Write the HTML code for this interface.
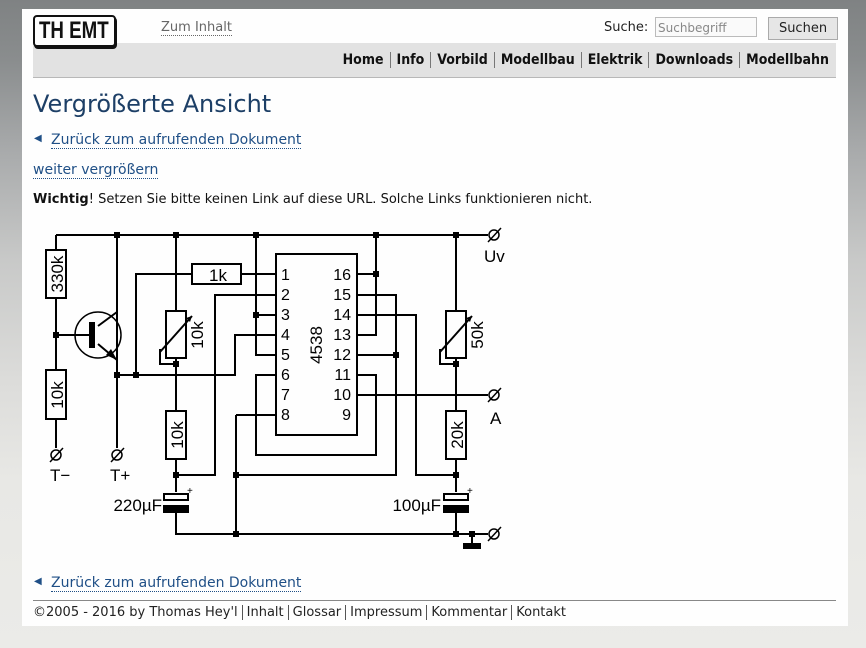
<!DOCTYPE html>
<html><head><meta charset="utf-8"><style>
html,body{margin:0;padding:0}
body{width:866px;height:648px;position:relative;overflow:hidden;background:linear-gradient(#7f8283 0px,#8a8d8e 60px,#a8aaab 150px,#c8c9c8 260px,#dcdcda 380px,#e8e8e5 480px,#ebebe8 648px);font-family:"DejaVu Sans","Liberation Sans",sans-serif;}
.a{position:absolute;white-space:nowrap}
#page{position:absolute;left:22px;top:9px;width:826px;height:617px;background:#fefefe}
.nav{position:absolute;left:33px;top:43px;width:803px;height:34px;background:#e2e2e2;border-bottom:1px solid #b8b8b8}
.menu{font-family:"DejaVu Sans Condensed","DejaVu Sans",sans-serif;font-weight:bold;font-size:14px;color:#111}
.menu span{padding:0 6px;border-left:1px solid #777}
.menu span:first-child{border-left:none}
.lnk{color:#1f4f86;border-bottom:1px dotted #1f4f86;font-size:14px}
.foot{font-size:13px;color:#222}
.foot span{padding:0 4px;border-left:1px solid #555}
.foot span:first-child{border-left:none;padding-left:0}
</style></head><body>
<div id="page"></div>
<div class="nav"></div>
<div class="a" style="left:33px;top:15px;width:79px;height:28px;border:2px solid #111;border-radius:4px;box-shadow:1px 2px 0 #111;overflow:hidden;background:#fefefe;z-index:2"><div style="font-family:'Liberation Sans',sans-serif;font-weight:bold;font-size:24px;line-height:28px;color:#111;transform:scaleX(0.78);transform-origin:0 0;margin-left:4px;width:100px">TH EMT</div></div>
<div class="a" style="left:161px;top:20px;font-size:13px;color:#666;border-bottom:1px dotted #666">Zum Inhalt</div>
<div class="a" style="left:604px;top:20px;font-size:13px;color:#222">Suche:</div>
<div class="a" style="left:655px;top:17px;height:20px;border:1px solid #bbb;background:#fafafa;font-size:12px;color:#888;line-height:20px;padding-left:2px;box-sizing:border-box;width:102px">Suchbegriff</div>
<div class="a" style="left:768px;top:17px;width:68px;height:21px;border:1px solid #aaa;background:#e6e6e6;font-size:13px;line-height:21px;text-align:center;color:#222">Suchen</div>
<div class="a menu" style="right:37px;top:52px"><span>Home</span><span>Info</span><span>Vorbild</span><span>Modellbau</span><span>Elektrik</span><span>Downloads</span><span style="padding-right:0">Modellbahn</span></div>
<div class="a" style="left:33px;top:90px;font-size:24px;color:#1d3f66">Vergrößerte Ansicht</div>
<div class="a" style="left:34px;top:133px;font-size:10px;color:#1f4f86">◀</div>
<div class="a lnk" style="left:51px;top:132px">Zurück zum aufrufenden Dokument</div>
<div class="a lnk" style="left:33px;top:162px">weiter vergrößern</div>
<div class="a" style="left:33px;top:192px;font-size:13px;color:#111"><b>Wichtig</b>! Setzen Sie bitte keinen Link auf diese URL. Solche Links funktionieren nicht.</div>
<svg class="a" style="left:0;top:0" width="866" height="648" font-family="Liberation Sans,sans-serif">
<g stroke="#000" stroke-width="2" fill="none">
<path d="M56 235H488M56 235V250M56 298V370M56 419V448"/>
<path d="M117 235V448M117 375H235V335H276M136 375V274H192M241 274H276"/>
<path d="M176 235V311M176 358V411M176 459V492M176 475H215V295H276"/>
<path d="M160 349V364H176"/>
<path d="M176 513V534H488M236 415V534M236 415H276M236 475H396V295H357M357 355H396"/>
<path d="M256 235V355H276M256 315H276"/>
<path d="M276 375H256V455H376V375H357"/>
<path d="M376 235V335H357M357 274H376M357 315H416V475H456M357 395H488"/>
<path d="M456 235V311M456 358V411M456 459V492M456 513V534M440 349V364H456"/>
<path d="M472 534V545"/>
<rect x="46" y="250" width="20" height="48"/><rect x="46" y="370" width="20" height="49"/>
<rect x="166" y="311" width="20" height="47"/><rect x="166" y="411" width="20" height="48"/>
<rect x="446" y="311" width="20" height="47"/><rect x="446" y="411" width="20" height="48"/>
<rect x="192" y="264" width="49" height="20"/>
<rect x="276" y="254" width="81" height="181"/>
<circle cx="98" cy="335" r="23" stroke-width="1.5"/>
<path d="M56 335H90M98 326L117 312M98 344L117 360" />
<path d="M160 352L192 316M440 352L472 316"/>
<rect x="164" y="494" width="24" height="6"/><rect x="444" y="494" width="24" height="6"/>
</g>
<g fill="#000">
<rect x="89" y="322" width="6" height="26"/>
<polygon points="117,360 106,355 111,349"/>
<polygon points="192,316 186,318 190,322"/><polygon points="472,316 466,318 470,322"/>
<rect x="163" y="505" width="26" height="8"/><rect x="443" y="505" width="26" height="8"/>
<rect x="463" y="543" width="18" height="6"/>
<g>
<rect x="114" y="232" width="6" height="6"/><rect x="173" y="232" width="6" height="6"/><rect x="253" y="232" width="6" height="6"/><rect x="373" y="232" width="6" height="6"/><rect x="453" y="232" width="6" height="6"/>
<rect x="53" y="332" width="6" height="6"/><rect x="114" y="372" width="6" height="6"/><rect x="133" y="372" width="6" height="6"/>
<rect x="173" y="361" width="6" height="6"/><rect x="173" y="472" width="6" height="6"/><rect x="233" y="472" width="6" height="6"/><rect x="233" y="531" width="6" height="6"/>
<rect x="253" y="312" width="6" height="6"/><rect x="373" y="271" width="6" height="6"/><rect x="393" y="352" width="6" height="6"/>
<rect x="453" y="361" width="6" height="6"/><rect x="453" y="472" width="6" height="6"/><rect x="453" y="531" width="6" height="6"/><rect x="469" y="531" width="6" height="6"/>
</g>
</g>
<g stroke="#000" stroke-width="1.5" fill="none">
<circle cx="494" cy="235" r="5"/><path d="M488 242L501 228"/>
<circle cx="494" cy="395" r="5"/><path d="M488 402L501 388"/>
<circle cx="494" cy="534" r="5"/><path d="M488 541L501 527"/>
<circle cx="56" cy="455" r="5"/><path d="M50 462L63 448"/>
<circle cx="117" cy="455" r="5"/><path d="M111 462L124 448"/>
</g>
<g font-size="17" fill="#000">
<text x="209" y="281">1k</text>
<text transform="translate(63,274) rotate(-90)" text-anchor="middle">330k</text>
<text transform="translate(63,395) rotate(-90)" text-anchor="middle">10k</text>
<text transform="translate(183,435) rotate(-90)" text-anchor="middle">10k</text>
<text transform="translate(463,435) rotate(-90)" text-anchor="middle">20k</text>
<text transform="translate(203,335) rotate(-90)" text-anchor="middle">10k</text>
<text transform="translate(483,335) rotate(-90)" text-anchor="middle">50k</text>
<text transform="translate(322,345) rotate(-90)" text-anchor="middle">4538</text>
<text x="50" y="481">T−</text><text x="110" y="481">T+</text>
<text x="484" y="262">Uv</text><text x="490" y="424">A</text>
<text x="162" y="511" text-anchor="end">220µF</text><text x="441" y="511" text-anchor="end">100µF</text>
<text x="187" y="494" font-size="10">+</text><text x="467" y="494" font-size="10">+</text>
<g font-size="16">
<text x="281" y="280">1</text><text x="281" y="300">2</text><text x="281" y="320">3</text><text x="281" y="340">4</text><text x="281" y="360">5</text><text x="281" y="380">6</text><text x="281" y="400">7</text><text x="281" y="420">8</text>
<text x="351" y="280" text-anchor="end">16</text><text x="351" y="300" text-anchor="end">15</text><text x="351" y="320" text-anchor="end">14</text><text x="351" y="340" text-anchor="end">13</text><text x="351" y="360" text-anchor="end">12</text><text x="351" y="380" text-anchor="end">11</text><text x="351" y="400" text-anchor="end">10</text><text x="351" y="420" text-anchor="end">9</text>
</g></g>
</svg>
<div class="a" style="left:34px;top:576px;font-size:10px;color:#1f4f86">◀</div>
<div class="a lnk" style="left:51px;top:575px">Zurück zum aufrufenden Dokument</div>
<div class="a" style="left:33px;top:600px;width:803px;border-top:1px solid #888"></div>
<div class="a foot" style="left:33px;top:605px"><span>©2005 - 2016 by Thomas Hey'l</span><span>Inhalt</span><span>Glossar</span><span>Impressum</span><span>Kommentar</span><span>Kontakt</span></div>
</body></html>
